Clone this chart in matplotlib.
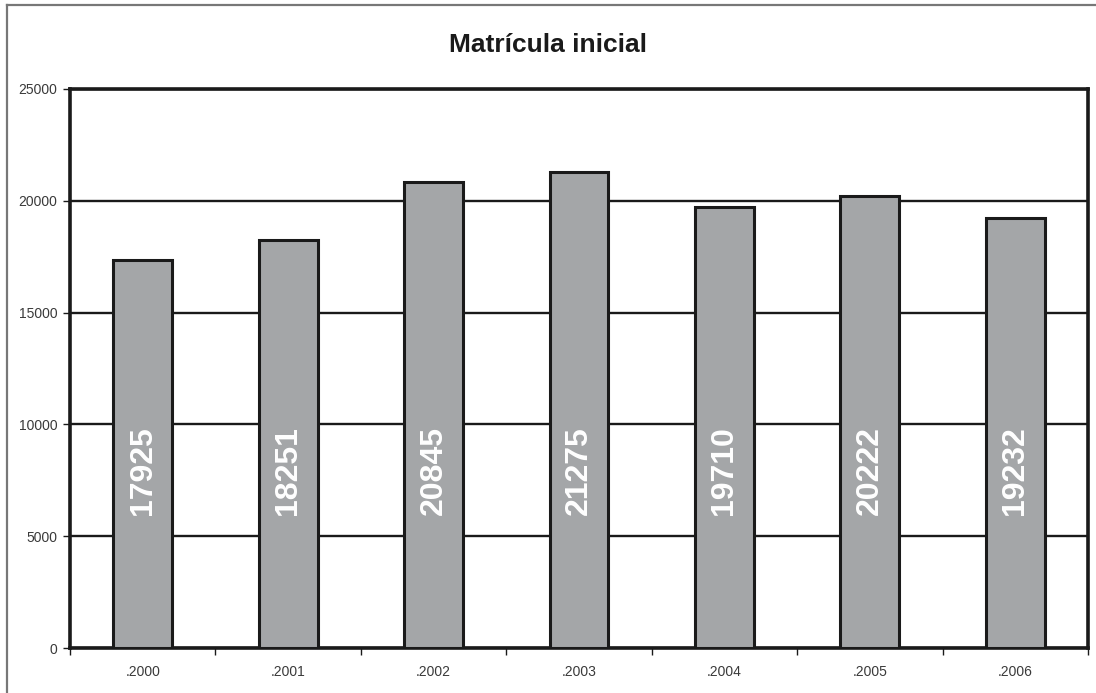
"""Matrícula inicial - bar chart"""
import matplotlib
matplotlib.use('Agg')
import matplotlib.pyplot as plt
from matplotlib.lines import Line2D
import numpy as np

plt.rcParams['font.family'] = ['Liberation Sans', 'DejaVu Sans']

# Data
years = ['.2000', '.2001', '.2002', '.2003', '.2004', '.2005', '.2006']
heights = [17340, 18251, 20845, 21275, 19710, 20222, 19232]   # bar heights as drawn
labels = ['17925', '18251', '20845', '21275', '19710', '20222', '19232']
yticks = [0, 5000, 10000, 15000, 20000, 25000]

fig = plt.figure(figsize=(10.96, 6.93), dpi=100, facecolor='white')
ax = fig.add_axes([70 / 1096, 45 / 693, 1018 / 1096, 559 / 693])

x = np.arange(len(years))
bars = ax.bar(x, heights, width=0.405, color='#a4a6a8', edgecolor='#1a1a1a',
              linewidth=2.2, zorder=3)

# White rotated value labels inside bars
for xi, lab in zip(x, labels):
    ax.text(xi, 5950, lab, rotation=90, ha='center', va='bottom',
            color='white', fontsize=23, fontweight='bold', zorder=4)

ax.set_xlim(-0.5, len(years) - 0.5)
ax.set_ylim(0, 25000)
ax.set_yticks(yticks)
ax.set_yticklabels([str(v) for v in yticks])

# Major x ticks at category boundaries, labels at centres
ax.set_xticks(np.arange(-0.5, len(years)))
ax.set_xticklabels([])
ax.set_xticks(x, minor=True)
ax.set_xticklabels(years, minor=True)
ax.tick_params(axis='x', which='major', direction='out', length=5, width=1, color='#1a1a1a')
ax.tick_params(axis='x', which='minor', length=0, pad=12, labelsize=10, labelcolor='#3a3a3a')
ax.tick_params(axis='y', direction='out', length=5, width=1, color='#1a1a1a',
               labelsize=10, labelcolor='#3a3a3a', pad=4)

ax.grid(axis='y', color='#1a1a1a', linewidth=1.7, zorder=1)
ax.set_axisbelow(True)
for sp in ax.spines.values():
    sp.set_linewidth(2.6)
    sp.set_color('#1a1a1a')

fig.text(0.5, 1 - 45 / 693, 'Matrícula inicial', ha='center', va='center',
         fontsize=19, fontweight='bold', color='#1a1a1a')

# Outer frame (left and top edges visible)
fig.add_artist(Line2D([7 / 1096, 7 / 1096], [0, 1 - 5 / 693], color='#777777',
                      linewidth=1.6, transform=fig.transFigure))
fig.add_artist(Line2D([7 / 1096, 1], [1 - 5 / 693, 1 - 5 / 693], color='#777777',
                      linewidth=1.6, transform=fig.transFigure))

fig.savefig('out.png', dpi=100, facecolor='white')
plt.close(fig)
